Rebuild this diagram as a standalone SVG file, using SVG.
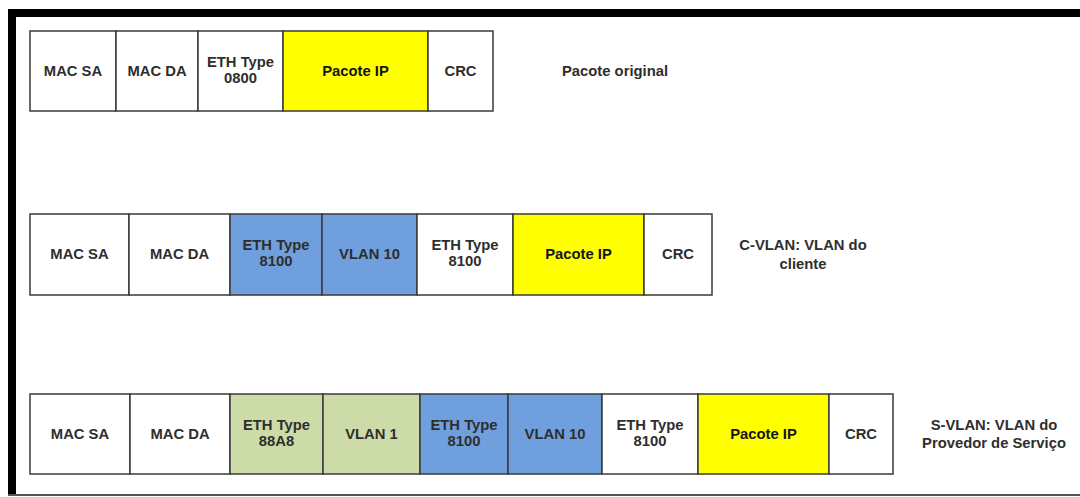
<svg xmlns="http://www.w3.org/2000/svg" width="1080" height="497" viewBox="0 0 1080 497">
<style>
.c{stroke:#3a3a3a;stroke-width:1.5}
.w{fill:#ffffff}
.y{fill:#ffff00}
.b{fill:#6f9fdc}
.g{fill:#cddba9}
text{font-family:"Liberation Sans",Arial,sans-serif;font-weight:bold;font-size:14.8px;fill:#2e2e2e;text-anchor:middle}
.d{fill:#151515}
</style>
<rect width="1080" height="497" fill="#ffffff"/>
<g id="frame">
<rect x="8" y="9" width="1080" height="8" fill="#000"/>
<rect x="8" y="9" width="8" height="487" fill="#000"/>
<line x1="8" y1="495" x2="1080" y2="495" stroke="#555" stroke-width="2"/>
</g>
<g id="row1">
<g id="r1-macsa"><rect class="c w" x="30" y="31" width="86" height="80"/><text x="73" y="76">MAC SA</text></g>
<g id="r1-macda"><rect class="c w" x="116" y="31" width="82" height="80"/><text x="157" y="76">MAC DA</text></g>
<g id="r1-eth"><rect class="c w" x="198" y="31" width="85" height="80"/><text x="240.5" y="67">ETH Type</text><text x="240.5" y="83">0800</text></g>
<g id="r1-ip"><rect class="c y" x="283" y="31" width="145" height="80"/><text class="d" x="355.5" y="76">Pacote IP</text></g>
<g id="r1-crc"><rect class="c w" x="428" y="31" width="65" height="80"/><text x="460.5" y="76">CRC</text></g>
<g id="r1-label"><text x="615" y="76">Pacote original</text></g>
</g>
<g id="row2">
<g id="r2-macsa"><rect class="c w" x="30" y="214" width="99" height="81"/><text x="79.5" y="259">MAC SA</text></g>
<g id="r2-macda"><rect class="c w" x="129" y="214" width="101" height="81"/><text x="179.5" y="259">MAC DA</text></g>
<g id="r2-eth1"><rect class="c b" x="230" y="214" width="92" height="81"/><text x="276" y="250">ETH Type</text><text x="276" y="266">8100</text></g>
<g id="r2-vlan"><rect class="c b" x="322" y="214" width="95" height="81"/><text x="369.5" y="259">VLAN 10</text></g>
<g id="r2-eth2"><rect class="c w" x="417" y="214" width="96" height="81"/><text x="465" y="250">ETH Type</text><text x="465" y="266">8100</text></g>
<g id="r2-ip"><rect class="c y" x="513" y="214" width="131" height="81"/><text class="d" x="578.5" y="259">Pacote IP</text></g>
<g id="r2-crc"><rect class="c w" x="644" y="214" width="68" height="81"/><text x="678" y="259">CRC</text></g>
<g id="r2-label"><text x="803" y="250">C-VLAN: VLAN do</text><text x="803" y="269">cliente</text></g>
</g>
<g id="row3">
<g id="r3-macsa"><rect class="c w" x="30" y="394" width="100" height="80"/><text x="80" y="439">MAC SA</text></g>
<g id="r3-macda"><rect class="c w" x="130" y="394" width="100" height="80"/><text x="180" y="439">MAC DA</text></g>
<g id="r3-eth1"><rect class="c g" x="230" y="394" width="93" height="80"/><text x="276.5" y="430">ETH Type</text><text x="276.5" y="446">88A8</text></g>
<g id="r3-vlan1"><rect class="c g" x="323" y="394" width="97" height="80"/><text x="371.5" y="439">VLAN 1</text></g>
<g id="r3-eth2"><rect class="c b" x="420" y="394" width="88" height="80"/><text x="464" y="430">ETH Type</text><text x="464" y="446">8100</text></g>
<g id="r3-vlan10"><rect class="c b" x="508" y="394" width="94" height="80"/><text x="555" y="439">VLAN 10</text></g>
<g id="r3-eth3"><rect class="c w" x="602" y="394" width="96" height="80"/><text x="650" y="430">ETH Type</text><text x="650" y="446">8100</text></g>
<g id="r3-ip"><rect class="c y" x="698" y="394" width="131" height="80"/><text class="d" x="763.5" y="439">Pacote IP</text></g>
<g id="r3-crc"><rect class="c w" x="829" y="394" width="64" height="80"/><text x="861" y="439">CRC</text></g>
<g id="r3-label"><text x="994" y="430">S-VLAN: VLAN do</text><text x="994" y="448">Provedor de Serviço</text></g>
</g>
<g id="connectors"></g>
</svg>
